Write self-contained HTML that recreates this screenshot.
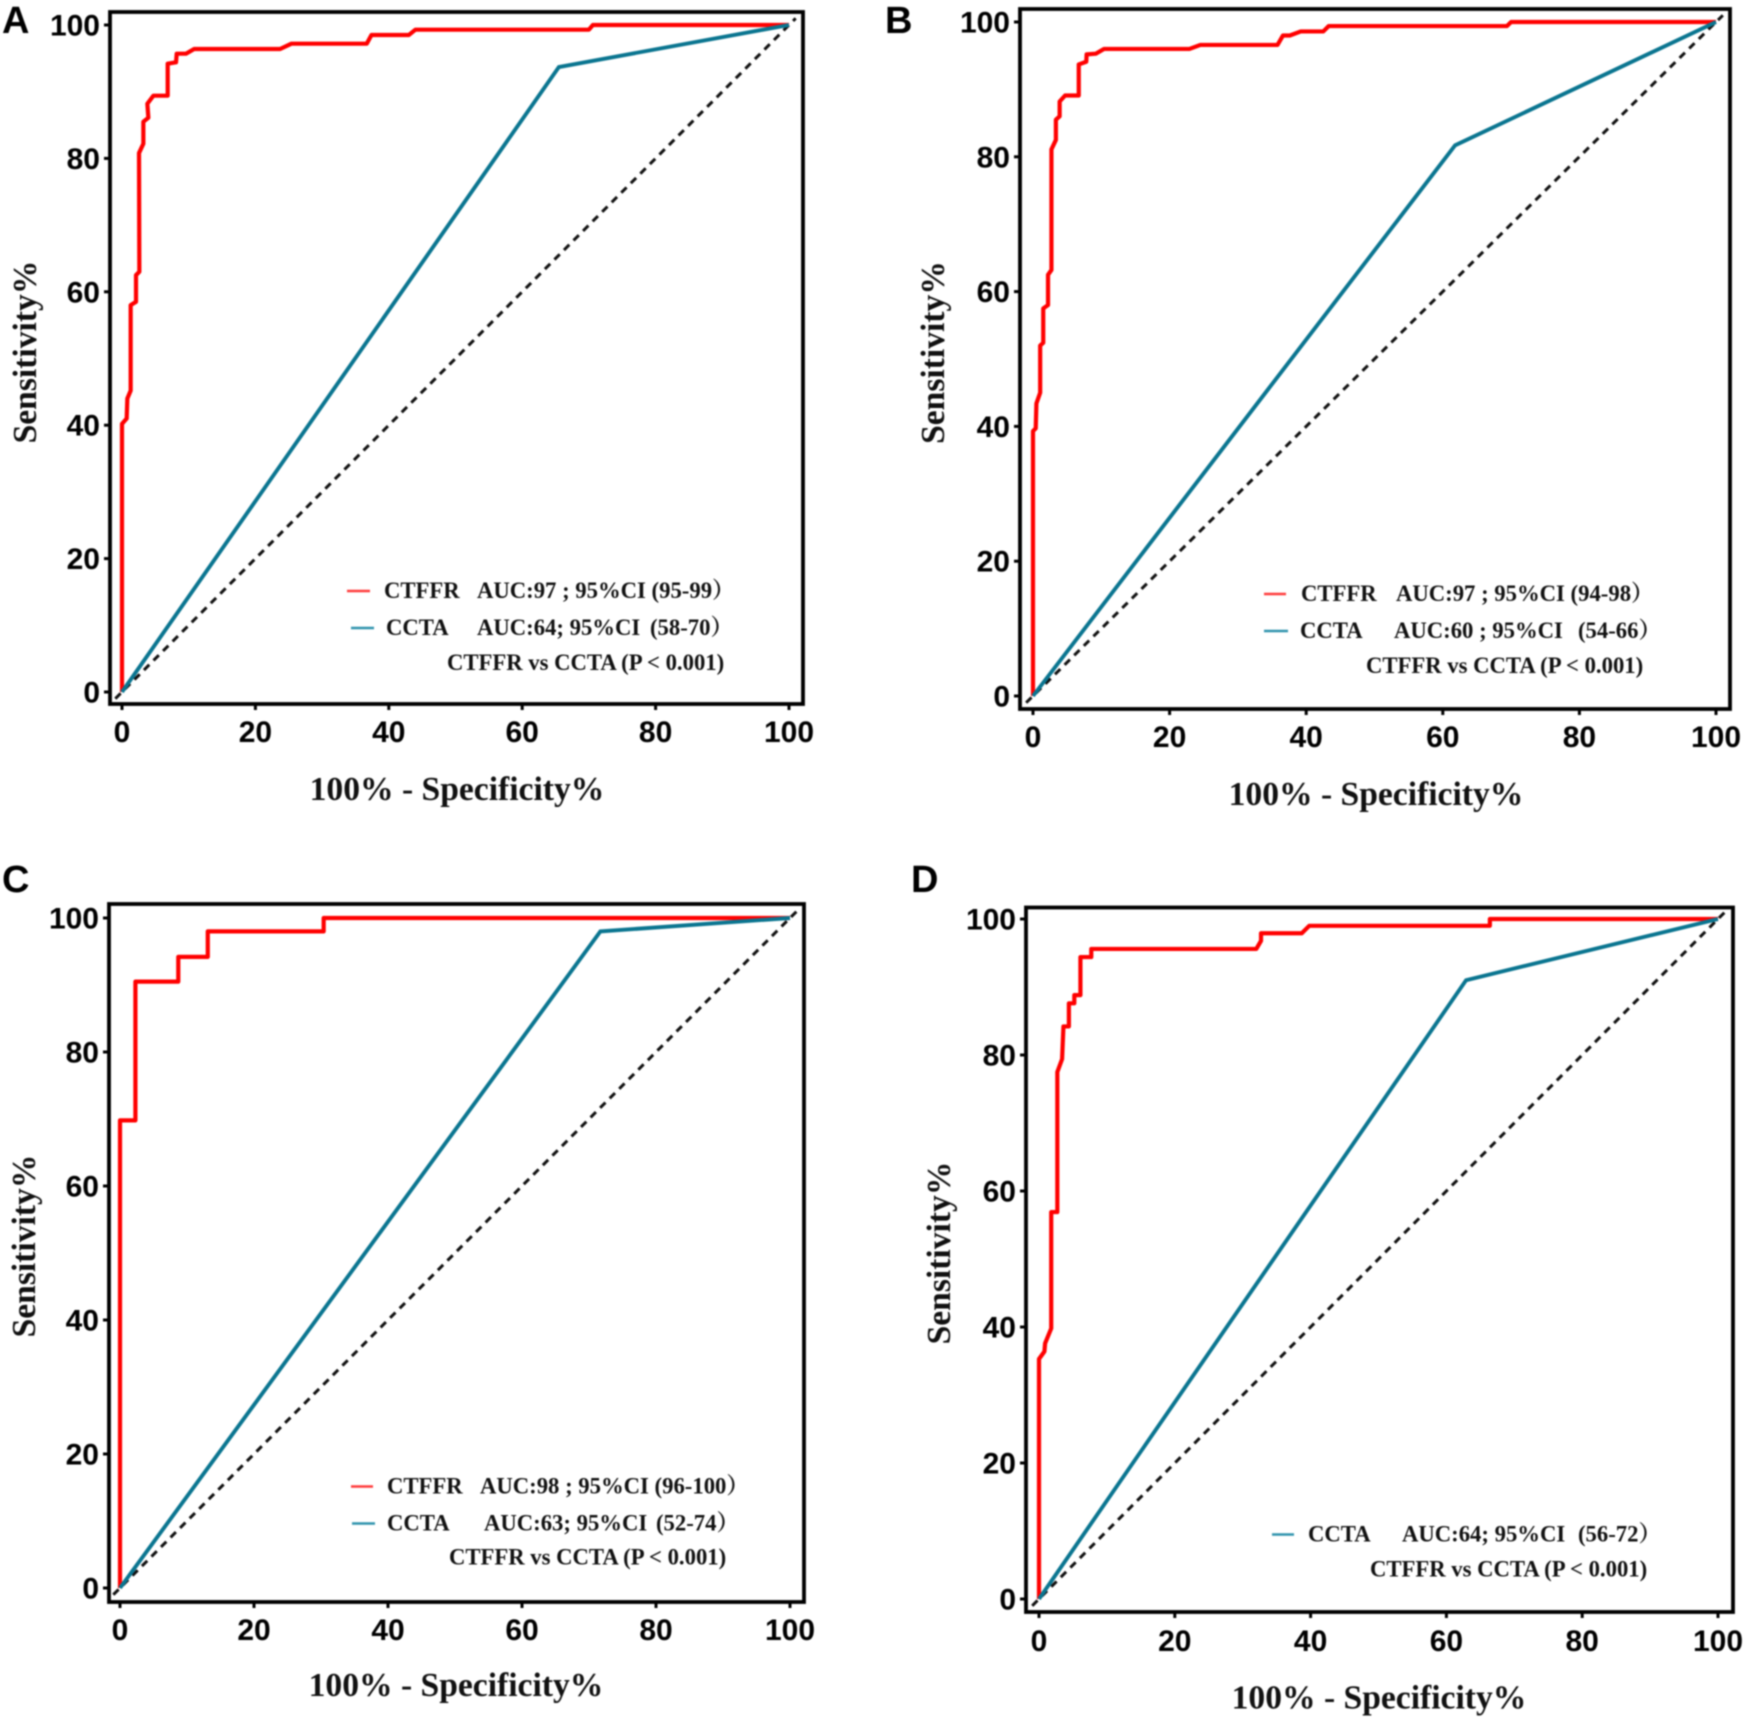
<!DOCTYPE html>
<html lang="en">
<head>
<meta charset="utf-8">
<title>ROC curves: CTFFR vs CCTA</title>
<style>
  html, body { margin: 0; padding: 0; background: #fff; }
  #figure { display: block; width: 1750px; height: 1725px; filter: blur(0.7px); }
  .tick-label { font-family: "Liberation Sans", sans-serif; font-weight: 700; font-size: 30px; fill: #000; }
  .panel-letter { font-family: "Liberation Sans", sans-serif; font-weight: 700; font-size: 38px; fill: #000; }
  .axis-title { font-family: "Liberation Serif", serif; font-weight: 700; font-size: 33.6px; fill: #111; }
  .legend-text { font-family: "Liberation Serif", "Noto Serif CJK SC", serif; font-weight: 700; font-size: 22.7px; fill: #111; }
</style>
</head>
<body>
<svg id="figure" xmlns="http://www.w3.org/2000/svg" width="1750" height="1725" viewBox="0 0 1750 1725">
  <rect x="0" y="0" width="1750" height="1725" fill="#fff"/>

  <g id="panel-a">
    <text class="panel-letter" x="2" y="33">A</text>
    <text class="axis-title" x="457" y="800" text-anchor="middle">100% - Specificity%</text>
    <text class="axis-title" transform="translate(36 352) rotate(-90)" text-anchor="middle">Sensitivity%</text>
    <line x1="347" x2="370" y1="591" y2="591" stroke="#ff3b3b" stroke-width="2.6"/>
    <text class="legend-text" x="384" y="598">CTFFR</text>
    <text class="legend-text" x="477" y="598">AUC:97 ; 95%CI (95-99）</text>
    <line x1="351" x2="374" y1="628" y2="628" stroke="#2f93ad" stroke-width="2.6"/>
    <text class="legend-text" x="386" y="635">CCTA</text>
    <text class="legend-text" x="477" y="635">AUC:64; 95%CI</text>
    <text class="legend-text" x="650" y="635">(58-70）</text>
    <text class="legend-text" x="447" y="670">CTFFR vs CCTA (P &lt; 0.001)</text>
  </g>

  <g id="panel-b">
    <text class="panel-letter" x="885" y="33">B</text>
    <text class="axis-title" x="1376" y="805" text-anchor="middle">100% - Specificity%</text>
    <text class="axis-title" transform="translate(944 352.5) rotate(-90)" text-anchor="middle">Sensitivity%</text>
    <line x1="1264" x2="1286" y1="594" y2="594" stroke="#ff3b3b" stroke-width="2.6"/>
    <text class="legend-text" x="1301" y="601">CTFFR</text>
    <text class="legend-text" x="1396" y="601">AUC:97 ; 95%CI (94-98）</text>
    <line x1="1264" x2="1288" y1="631" y2="631" stroke="#2f93ad" stroke-width="2.6"/>
    <text class="legend-text" x="1300" y="638">CCTA</text>
    <text class="legend-text" x="1394" y="638">AUC:60 ; 95%CI</text>
    <text class="legend-text" x="1578" y="638">(54-66）</text>
    <text class="legend-text" x="1366" y="673">CTFFR vs CCTA (P &lt; 0.001)</text>
  </g>

  <g id="panel-c">
    <text class="panel-letter" x="2" y="892">C</text>
    <text class="axis-title" x="456" y="1696" text-anchor="middle">100% - Specificity%</text>
    <text class="axis-title" transform="translate(35 1246) rotate(-90)" text-anchor="middle">Sensitivity%</text>
    <line x1="351" x2="373" y1="1486.5" y2="1486.5" stroke="#ff3b3b" stroke-width="2.6"/>
    <text class="legend-text" x="387" y="1493.5">CTFFR</text>
    <text class="legend-text" x="480" y="1493.5">AUC:98 ; 95%CI (96-100）</text>
    <line x1="352" x2="375" y1="1523.5" y2="1523.5" stroke="#2f93ad" stroke-width="2.6"/>
    <text class="legend-text" x="387" y="1530.5">CCTA</text>
    <text class="legend-text" x="484" y="1530.5">AUC:63; 95%CI</text>
    <text class="legend-text" x="656" y="1530.5">(52-74）</text>
    <text class="legend-text" x="449" y="1564.5">CTFFR vs CCTA (P &lt; 0.001)</text>
  </g>

  <g id="panel-d">
    <text class="panel-letter" x="911" y="892">D</text>
    <text class="axis-title" x="1379" y="1708.5" text-anchor="middle">100% - Specificity%</text>
    <text class="axis-title" transform="translate(950 1253) rotate(-90)" text-anchor="middle">Sensitivity%</text>
    <line x1="1272" x2="1294" y1="1534.5" y2="1534.5" stroke="#2f93ad" stroke-width="2.6"/>
    <text class="legend-text" x="1308" y="1541.5">CCTA</text>
    <text class="legend-text" x="1402" y="1541.5">AUC:64; 95%CI</text>
    <text class="legend-text" x="1578" y="1541.5">(56-72）</text>
    <text class="legend-text" x="1370" y="1576.5">CTFFR vs CCTA (P &lt; 0.001)</text>
  </g>
</svg>

<script>
// Axis tick values shared by all panels
const xTickValues = [0, 20, 40, 60, 80, 100];
const yTickValues = [0, 20, 40, 60, 80, 100];
const referenceLineX = [-1, 101];
const referenceLineY = [-1, 101];

// Panel A series (100-specificity %, sensitivity %)
const aCtffrX = [0, 0, 0.7, 0.8, 1.3, 1.3, 2.1, 2.1, 2.6, 2.55, 3.2, 3.2, 3.95, 3.8, 4.7, 6.85, 6.85, 8.1, 8.2, 9.6, 10.8, 23.7, 25.4, 36.7, 37.4, 43, 44, 70, 70.6, 100];
const aCtffrY = [0, 40.2, 41, 44, 45.2, 58, 58.5, 62.5, 63, 80.8, 82.2, 85.5, 86.1, 88.2, 89.4, 89.4, 94.2, 94.4, 95.7, 95.7, 96.4, 96.4, 97.2, 97.2, 98.5, 98.5, 99.3, 99.3, 100, 100];
const aCctaX = [0, 65.5, 100];
const aCctaY = [0, 93.7, 100];

// Panel B series
const bCtffrX = [0, 0, 0.4, 0.5, 1.05, 1.05, 1.5, 1.5, 2.2, 2.2, 2.7, 2.7, 3.35, 3.35, 3.9, 3.9, 4.7, 6.7, 6.7, 7.8, 7.85, 9.2, 10.4, 22.9, 24.5, 35.8, 36.6, 37.6, 39.2, 42.5, 43.3, 69.4, 70, 100];
const bCtffrY = [0, 39.3, 39.7, 43.4, 45, 52, 52.4, 57.5, 58, 62.5, 63.2, 81.1, 82.5, 85.5, 86, 88.2, 89.1, 89.1, 93.7, 94.1, 95.2, 95.3, 96, 96, 96.6, 96.6, 98, 98, 98.6, 98.6, 99.4, 99.4, 100, 100];
const bCctaX = [0, 61.8, 100];
const bCctaY = [0, 81.7, 100];

// Panel C series
const cCtffrX = [0, 0, 2.3, 2.3, 8.7, 8.7, 13.1, 13.1, 30.4, 30.4, 100];
const cCtffrY = [0, 69.8, 69.8, 90.5, 90.5, 94.2, 94.2, 98, 98, 100, 100];
const cCctaX = [0, 71.7, 100];
const cCctaY = [0, 98, 100];

// Panel D series
const dCtffrX = [0, 0, 0.8, 0.9, 1.8, 1.8, 2.7, 2.7, 3.4, 3.6, 4.4, 4.4, 5.2, 5.2, 6.1, 6.1, 7.7, 7.7, 32, 32.7, 32.7, 38.7, 39.8, 66.4, 66.4, 100];
const dCtffrY = [0, 35.3, 36.4, 37.6, 39.8, 56.9, 56.9, 77.5, 79.4, 84.2, 84.2, 87.6, 87.6, 88.8, 88.8, 94.4, 94.4, 95.6, 95.6, 96.8, 97.9, 97.9, 99, 99, 100, 100];
const dCctaX = [0, 62.9, 100];
const dCctaY = [0, 91, 100];

const SVG_NS = 'http://www.w3.org/2000/svg';

function makeXScale(x0, x100) { return function (v) { return x0 + (x100 - x0) * v / 100; }; }
function makeYScale(y0, y100) { return function (v) { return y0 + (y100 - y0) * v / 100; }; }

function pathFrom(xs, ys, sx, sy) {
  let d = '';
  for (let i = 0; i < xs.length; i++) {
    d += (i ? 'L' : 'M') + sx(xs[i]).toFixed(2) + ' ' + sy(ys[i]).toFixed(2);
  }
  return d;
}

function drawPanel(id, box, ctffrX, ctffrY, ccX, ccY) {
  const g = document.getElementById(id);
  const sx = makeXScale(box.x0, box.x100);
  const sy = makeYScale(box.y0, box.y100);

  const refLine = document.createElementNS(SVG_NS, 'path');
  refLine.setAttribute('d', pathFrom(referenceLineX, referenceLineY, sx, sy));
  refLine.setAttribute('fill', 'none');
  refLine.setAttribute('stroke', '#111');
  refLine.setAttribute('stroke-width', '3');
  refLine.setAttribute('stroke-dasharray', '7.5 6');
  
  
  g.appendChild(refLine);

  const red = document.createElementNS(SVG_NS, 'path');
  red.setAttribute('d', pathFrom(ctffrX, ctffrY, sx, sy));
  red.setAttribute('fill', 'none');
  red.setAttribute('stroke', '#ff0000');
  red.setAttribute('stroke-width', '4.2');
  red.setAttribute('stroke-linejoin', 'round');
  
  
  g.appendChild(red);

  const teal = document.createElementNS(SVG_NS, 'path');
  teal.setAttribute('d', pathFrom(ccX, ccY, sx, sy));
  teal.setAttribute('fill', 'none');
  teal.setAttribute('stroke', '#0a7590');
  teal.setAttribute('stroke-width', '3.9');
  
  
  g.appendChild(teal);

  const frame = document.createElementNS(SVG_NS, 'rect');
  frame.setAttribute('x', box.left);
  frame.setAttribute('y', box.top);
  frame.setAttribute('width', box.right - box.left);
  frame.setAttribute('height', box.bottom - box.top);
  frame.setAttribute('fill', 'none');
  frame.setAttribute('stroke', '#000');
  frame.setAttribute('stroke-width', '3.8');
  
  
  g.appendChild(frame);

  xTickValues.forEach(function (v) {
    const tick = document.createElementNS(SVG_NS, 'line');
    tick.setAttribute('x1', sx(v));
    tick.setAttribute('x2', sx(v));
    tick.setAttribute('y1', box.bottom);
    tick.setAttribute('y2', box.bottom + 6);
    tick.setAttribute('stroke', '#000');
    tick.setAttribute('stroke-width', '3');
    
    
    g.appendChild(tick);

    const label = document.createElementNS(SVG_NS, 'text');
    label.setAttribute('class', 'tick-label');
    label.setAttribute('x', sx(v));
    label.setAttribute('y', box.bottom + box.xLabelGap);
    label.setAttribute('text-anchor', 'middle');
    
    
    label.textContent = v;
    g.appendChild(label);
  });

  yTickValues.forEach(function (v) {
    const tick = document.createElementNS(SVG_NS, 'line');
    tick.setAttribute('x1', box.left - 6);
    tick.setAttribute('x2', box.left);
    tick.setAttribute('y1', sy(v));
    tick.setAttribute('y2', sy(v));
    tick.setAttribute('stroke', '#000');
    tick.setAttribute('stroke-width', '3');
    
    
    g.appendChild(tick);

    const label = document.createElementNS(SVG_NS, 'text');
    label.setAttribute('class', 'tick-label');
    label.setAttribute('x', box.left - 10);
    label.setAttribute('y', sy(v) + 10.5);
    label.setAttribute('text-anchor', 'end');
    
    
    label.textContent = v;
    g.appendChild(label);
  });
}

drawPanel('panel-a', { left: 110, right: 803, top: 12, bottom: 704, x0: 122, x100: 789, y0: 692, y100: 25, xLabelGap: 38 }, aCtffrX, aCtffrY, aCctaX, aCctaY);
drawPanel('panel-b', { left: 1020, right: 1730, top: 9, bottom: 709, x0: 1033, x100: 1716, y0: 696, y100: 22, xLabelGap: 38 }, bCtffrX, bCtffrY, bCctaX, bCctaY);
drawPanel('panel-c', { left: 109, right: 804, top: 904, bottom: 1602, x0: 120, x100: 790, y0: 1588, y100: 918, xLabelGap: 38 }, cCtffrX, cCtffrY, cCctaX, cCctaY);
drawPanel('panel-d', { left: 1026, right: 1733, top: 907.5, bottom: 1612, x0: 1039, x100: 1718, y0: 1599, y100: 919, xLabelGap: 39 }, dCtffrX, dCtffrY, dCctaX, dCctaY);
</script>
</body>
</html>
